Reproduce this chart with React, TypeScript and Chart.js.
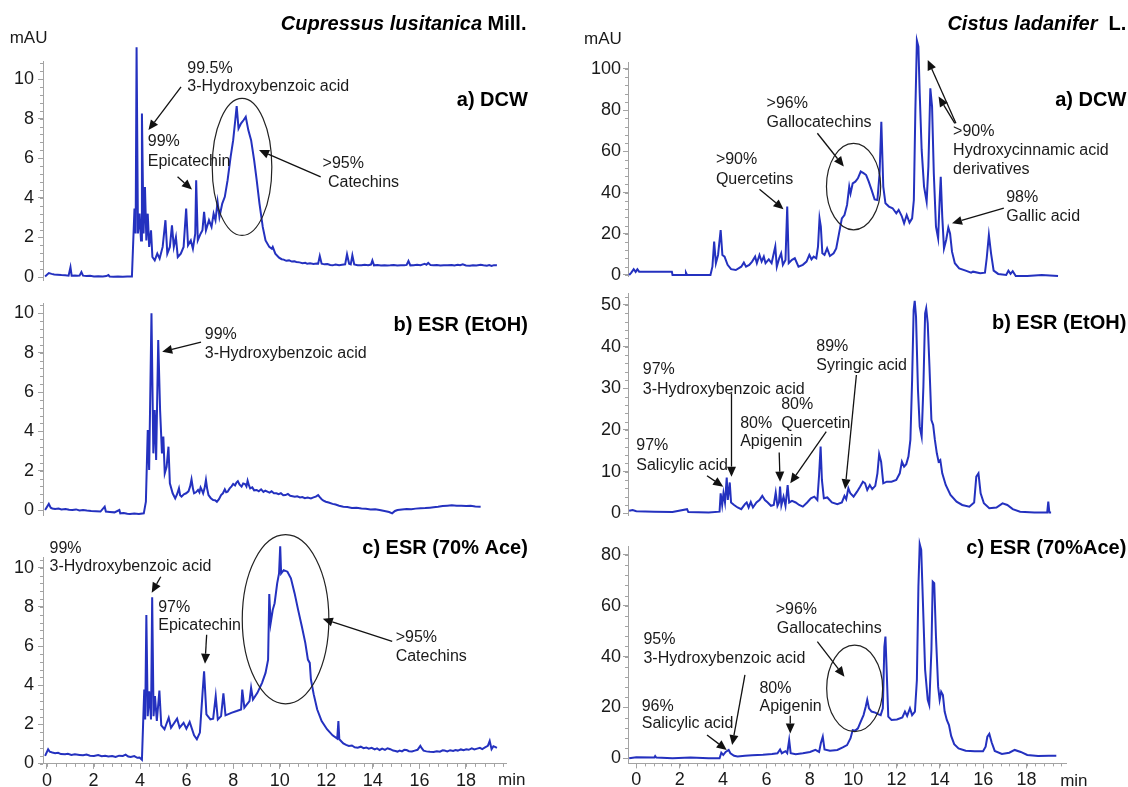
import React, { useEffect, useRef } from 'react';
import { Chart, registerables } from 'chart.js';

Chart.register(...registerables);

type Pt = [number, number];

// ---------- Data (retention time in min, absorbance in mAU) ----------
const cupDcw: Pt[] = [
  [-0.08, 0.03], [0.08, 0.2], [0.2, 0.16], [0.31, 0.13], [0.45, 0.12], [0.62, 0.1], [0.78, 0.09],
  [0.93, 0.07], [1.01, 0.5], [1.06, 0.07], [1.2, 0.08], [1.3, 0.06], [1.4, 0.07], [1.48, 0.25],
  [1.55, 0.07], [1.7, 0.05], [1.85, 0.06], [2.02, 0.03], [2.2, 0.04], [2.4, 0.03], [2.55, 0.05],
  [2.64, 0.1], [2.69, 0.03], [2.85, 0.02], [3.05, 0.03], [3.26, 0.02], [3.45, 0.03], [3.65, 0.03],
  [3.76, 3.46], [3.81, 2.2], [3.85, 11.6], [3.91, 2.2], [3.98, 3.2], [4.04, 1.85],
  [4.08, 8.26], [4.15, 2.2], [4.21, 4.55], [4.27, 1.85], [4.33, 3.2], [4.39, 1.52], [4.47, 2.36],
  [4.53, 1.01], [4.63, 0.84], [4.74, 1.18], [4.84, 0.93], [4.97, 1.52], [5.09, 2.87], [5.17, 1.18],
  [5.28, 1.52], [5.37, 2.61], [5.45, 1.52], [5.54, 2.02], [5.62, 1.01], [5.75, 1.18], [5.87, 1.52],
  [5.98, 3.46], [6.06, 1.6], [6.18, 1.85], [6.27, 1.43], [6.37, 2.19], [6.41, 4.89], [6.48, 1.85],
  [6.6, 2.19], [6.68, 2.36], [6.75, 3.29], [6.83, 2.36], [6.96, 2.87], [7.07, 2.53], [7.16, 3.2],
  [7.24, 2.87], [7.33, 3.79], [7.41, 3.04], [7.53, 3.71], [7.64, 4.05], [7.76, 4.89], [7.89, 6.07],
  [8.0, 6.91], [8.09, 7.93], [8.15, 8.63], [8.23, 7.5], [8.34, 7.76], [8.45, 7.93], [8.54, 8.09],
  [8.65, 7.42], [8.77, 6.91], [8.9, 5.9], [9.01, 4.89], [9.13, 3.71], [9.27, 2.53], [9.39, 1.85],
  [9.55, 1.52], [9.66, 1.43], [9.7, 1.52], [9.81, 1.18], [9.97, 0.98], [10.08, 0.9], [10.17, 0.88],
  [10.28, 0.82], [10.4, 0.84], [10.52, 0.78], [10.63, 0.8], [10.71, 0.76], [10.85, 0.74], [10.98, 0.7],
  [11.1, 0.72], [11.18, 0.67], [11.3, 0.69], [11.45, 0.66], [11.58, 0.68], [11.65, 0.67], [11.72, 1.06],
  [11.8, 0.67], [11.92, 0.64], [12.05, 0.66], [12.17, 0.61], [12.27, 0.59], [12.4, 0.63], [12.55, 0.6],
  [12.68, 0.62], [12.81, 0.64], [12.89, 1.15], [12.98, 0.67], [13.05, 0.64], [13.12, 1.1], [13.2, 0.64],
  [13.35, 0.6], [13.51, 0.59], [13.65, 0.62], [13.8, 0.6], [13.92, 0.63], [13.98, 0.84], [14.05, 0.59],
  [14.2, 0.61], [14.35, 0.58], [14.5, 0.6], [14.62, 0.58], [14.75, 0.59], [14.9, 0.61], [15.05, 0.58],
  [15.2, 0.6], [15.35, 0.59], [15.45, 0.61], [15.53, 0.81], [15.61, 0.59], [15.75, 0.6], [15.9, 0.62],
  [16.05, 0.6], [16.15, 0.64], [16.23, 0.67], [16.3, 0.62], [16.38, 0.71], [16.48, 0.6], [16.61, 0.59],
  [16.75, 0.61], [16.9, 0.58], [17.05, 0.6], [17.2, 0.59], [17.39, 0.61], [17.5, 0.58], [17.65, 0.62],
  [17.75, 0.6], [17.86, 0.64], [18.0, 0.58], [18.17, 0.57], [18.3, 0.6], [18.45, 0.58], [18.63, 0.62],
  [18.75, 0.59], [18.9, 0.57], [19.0, 0.6], [19.1, 0.56], [19.2, 0.6], [19.33, 0.59],
];

const cupEtoh: Pt[] = [
  [-0.08, 0], [0.08, 0.31], [0.16, 0.12], [0.23, 0.08], [0.35, 0.05], [0.5, 0.07], [0.62, 0.03],
  [0.8, 0.05], [0.95, 0.01], [1.09, 0], [1.25, 0.03], [1.4, -0.02], [1.55, 0], [1.71, -0.03],
  [1.9, -0.05], [2.1, -0.06], [2.3, -0.08], [2.48, 0.17], [2.53, -0.08], [2.7, -0.1], [2.9, -0.12],
  [3.11, 0], [3.15, -0.17], [3.3, -0.15], [3.45, -0.19], [3.57, -0.2], [3.75, -0.18], [3.95, -0.2],
  [4.16, -0.17], [4.25, 0.42], [4.33, 4.07],
  [4.39, 2.03], [4.49, 10.0], [4.57, 2.88], [4.63, 5.08], [4.69, 2.54], [4.78, 8.64], [4.86, 5.08],
  [4.94, 2.88], [5.0, 3.73], [5.06, 1.86], [5.14, 2.2], [5.22, 3.22], [5.28, 1.36], [5.4, 0.85],
  [5.51, 0.59], [5.59, 0.8], [5.67, 1.1], [5.72, 0.75], [5.78, 0.68], [5.88, 0.8], [5.98, 0.85],
  [6.08, 0.95], [6.15, 1.2], [6.21, 1.56], [6.27, 1.1], [6.32, 0.85], [6.4, 0.9], [6.49, 1.02],
  [6.55, 0.9], [6.6, 1.15], [6.66, 1.0], [6.71, 0.85], [6.77, 1.1], [6.83, 1.53], [6.88, 1.1],
  [6.94, 0.76], [7.04, 0.6], [7.14, 0.51], [7.22, 0.5], [7.3, 0.42], [7.39, 0.55], [7.48, 0.76],
  [7.56, 0.85], [7.64, 1.05], [7.7, 0.9], [7.76, 0.93], [7.85, 1.1], [7.93, 1.2], [8.0, 1.32],
  [8.08, 1.25], [8.14, 1.4], [8.2, 1.47], [8.27, 1.3], [8.36, 1.19], [8.43, 1.35], [8.51, 1.32],
  [8.57, 1.2], [8.62, 1.49], [8.68, 1.25], [8.73, 1.1], [8.82, 1.15], [8.9, 1.0], [9.01, 1.02],
  [9.1, 0.95], [9.2, 1.05], [9.3, 0.92], [9.38, 0.98], [9.47, 0.93], [9.56, 0.88], [9.65, 0.95],
  [9.75, 0.85], [9.86, 0.85], [9.95, 0.8], [10.05, 0.85], [10.15, 0.75], [10.25, 0.76], [10.35, 0.82],
  [10.45, 0.72], [10.55, 0.7], [10.65, 0.68], [10.75, 0.7], [10.87, 0.64], [10.97, 0.66], [11.08, 0.6],
  [11.2, 0.63], [11.34, 0.59], [11.45, 0.64], [11.55, 0.68], [11.65, 0.76], [11.72, 0.65], [11.8, 0.55],
  [11.88, 0.47], [11.98, 0.42], [12.1, 0.38], [12.27, 0.31], [12.4, 0.28], [12.55, 0.22], [12.73, 0.17],
  [12.9, 0.15], [13.1, 0.1], [13.3, 0.12], [13.51, 0.08], [13.7, 0.06], [13.9, 0.03], [14.1, 0.04],
  [14.29, 0], [14.5, -0.05], [14.7, -0.1], [14.83, -0.17], [14.95, -0.05], [15.06, 0], [15.25, 0.03],
  [15.45, 0.05], [15.65, 0.04], [15.84, 0.07], [16.05, 0.09], [16.25, 0.1], [16.45, 0.12], [16.61, 0.14],
  [16.8, 0.16], [17.0, 0.2], [17.2, 0.22], [17.39, 0.24], [17.6, 0.22], [17.8, 0.21], [18.01, 0.2],
  [18.2, 0.22], [18.4, 0.18], [18.63, 0.17],
];

const cupAce: Pt[] = [
  [-0.08, 0.39], [0.05, 0.73], [0.12, 0.6], [0.23, 0.56], [0.35, 0.52], [0.48, 0.55], [0.6, 0.48],
  [0.78, 0.47], [0.9, 0.5], [1.05, 0.44], [1.2, 0.47], [1.4, 0.44], [1.55, 0.42], [1.7, 0.46],
  [1.85, 0.4], [2.02, 0.39], [2.2, 0.43], [2.35, 0.37], [2.5, 0.4], [2.64, 0.36], [2.8, 0.38],
  [2.95, 0.33], [3.1, 0.4], [3.26, 0.39], [3.38, 0.45], [3.49, 0.36], [3.6, 0.33], [3.75, 0.38],
  [3.88, 0.29], [3.98, 0.3], [4.08, 0.19], [4.13, 2.0], [4.18, 3.78], [4.22, 2.25],
  [4.27, 7.59], [4.33, 2.42], [4.39, 3.69], [4.47, 2.25], [4.52, 8.49], [4.58, 2.42], [4.64, 3.44],
  [4.72, 2.17], [4.83, 3.73], [4.91, 1.95], [5.05, 1.75], [5.23, 2.34], [5.33, 1.83], [5.59, 2.29],
  [5.7, 1.83], [5.87, 2.08], [5.99, 1.78], [6.13, 2.12], [6.32, 1.44], [6.44, 1.24], [6.57, 1.58],
  [6.68, 3.53], [6.75, 4.71], [6.85, 2.51], [7.02, 2.25], [7.14, 2.29], [7.25, 3.44], [7.34, 2.25],
  [7.48, 2.42], [7.58, 3.58], [7.67, 2.46], [7.92, 2.59], [8.15, 2.68], [8.34, 2.76], [8.39, 3.78],
  [8.48, 2.85], [8.7, 3.19], [8.77, 3.86], [8.85, 3.27], [9.04, 3.61], [9.24, 4.12], [9.39, 4.63],
  [9.5, 5.31], [9.55, 8.66], [9.61, 7.17], [9.7, 7.85], [9.78, 8.19], [9.89, 9.2], [9.97, 9.71],
  [10.02, 11.1], [10.06, 9.71], [10.17, 9.88], [10.33, 9.8], [10.48, 9.46], [10.64, 8.69],
  [10.79, 7.85], [10.95, 7.0], [11.1, 6.15], [11.21, 5.31], [11.29, 5.14], [11.34, 4.29],
  [11.46, 3.53], [11.61, 2.76], [11.8, 2.17], [12.03, 1.75], [12.27, 1.44], [12.47, 1.27],
  [12.52, 2.17], [12.56, 1.24], [12.73, 1.03], [12.85, 0.95], [12.97, 0.9], [13.1, 0.92], [13.22, 0.83],
  [13.35, 0.81], [13.48, 0.86], [13.6, 0.78], [13.72, 0.82], [13.82, 0.76], [13.95, 0.8], [14.08, 0.72],
  [14.18, 0.77], [14.29, 0.69], [14.4, 0.76], [14.52, 0.7], [14.63, 0.78], [14.75, 0.73], [14.87, 0.66],
  [14.97, 0.64], [15.06, 0.61], [15.15, 0.66], [15.25, 0.62], [15.35, 0.7], [15.45, 0.69], [15.55, 0.63],
  [15.68, 0.61], [15.8, 0.66], [15.92, 0.7], [16.04, 0.9], [16.1, 0.78], [16.18, 0.66], [16.3, 0.62],
  [16.45, 0.6], [16.61, 0.59], [16.75, 0.63], [16.88, 0.6], [17.0, 0.67], [17.08, 0.66], [17.2, 0.62],
  [17.32, 0.68], [17.45, 0.64], [17.55, 0.69], [17.65, 0.66], [17.78, 0.72], [17.9, 0.68], [18.01, 0.73],
  [18.12, 0.7], [18.25, 0.77], [18.36, 0.72], [18.48, 0.76], [18.6, 0.8], [18.7, 0.74], [18.82, 0.82],
  [18.94, 0.9], [19.02, 1.15], [19.1, 0.73], [19.18, 0.88], [19.25, 0.85], [19.33, 0.8],
];

const cisDcw: Pt[] = [
  [-0.33, 0], [-0.23, 1.1], [-0.12, 2.8], [-0.03, 1.5], [0.05, 2.8], [0.13, 1.6], [0.83, 1.6],
  [1.64, 1.6], [1.67, 0], [2.25, 0], [2.29, 1.1], [2.34, 0], [3.42, 0], [3.51, 4.0], [3.59, 16.2],
  [3.67, 5.7], [3.77, 9.7], [3.89, 21.8], [3.97, 9.7], [4.07, 8.9], [4.21, 4.9], [4.37, 2.8],
  [4.59, 2.4], [4.84, 4.0], [4.96, 6.0], [5.06, 4.0], [5.21, 4.9], [5.34, 6.5], [5.48, 8.9],
  [5.56, 5.7], [5.68, 9.7], [5.78, 6.5], [5.88, 8.9], [5.96, 5.7], [6.11, 7.6], [6.24, 5.7],
  [6.34, 10.5], [6.41, 13.8], [6.48, 4.0], [6.59, 8.1], [6.68, 10.5], [6.76, 4.9], [6.88, 7.3],
  [6.96, 33.2], [7.03, 5.7], [7.18, 7.3], [7.31, 8.1], [7.48, 4.0], [7.68, 4.9], [7.85, 6.5],
  [7.98, 9.7], [8.08, 7.6], [8.18, 8.9], [8.3, 8.1], [8.38, 13.8], [8.45, 27.5], [8.51, 23.5],
  [8.58, 10.5], [8.68, 9.7], [8.8, 12.9], [8.93, 9.2], [9.1, 10.5], [9.22, 12.9], [9.35, 20.2],
  [9.48, 27.5], [9.6, 29.1], [9.72, 34.0], [9.82, 42.9], [9.88, 39.6], [9.98, 44.5], [10.1, 45.3],
  [10.22, 46.9], [10.35, 50.2], [10.48, 49.4], [10.6, 48.5], [10.72, 45.3], [10.85, 41.3],
  [10.99, 36.7], [11.12, 36.4], [11.22, 49.4], [11.3, 74.4], [11.39, 42.9], [11.49, 34.8],
  [11.65, 33.2], [11.82, 32.4], [11.99, 29.9], [12.1, 31.6], [12.24, 28.6], [12.35, 25.1],
  [12.47, 29.1], [12.6, 25.4], [12.72, 27.5], [12.8, 36.4], [12.87, 80.1], [12.94, 113.8],
  [13.01, 110.8], [13.07, 88.2], [13.16, 60.7], [13.27, 42.9], [13.39, 35.6], [13.47, 52.6],
  [13.56, 90.6], [13.64, 81.7], [13.72, 49.4], [13.82, 23.5], [13.92, 17.8], [13.99, 36.4],
  [14.04, 47.7], [14.11, 28.3], [14.19, 12.9], [14.29, 17.0], [14.39, 23.0], [14.47, 20.2],
  [14.56, 11.3], [14.69, 5.7], [14.89, 3.2], [15.19, 2.1], [15.44, 1.1], [15.53, 1.6], [15.86, 0.8],
  [16.08, 1.1], [16.16, 8.1], [16.26, 19.4], [16.36, 10.5], [16.48, 2.1], [16.69, 0.5], [17.06, 0],
  [17.16, 2.1], [17.26, 0.5], [17.36, 1.8], [17.5, -0.5], [18.03, -0.5], [18.7, 0], [19.45, -0.5],
];

const cisEtoh: Pt[] = [
  [-0.33, 0.6], [-0.17, 0.8], [0, 0.5], [0.83, 0.4], [1.67, 0.3], [2.34, 1.0], [2.4, 0.3],
  [3.34, 0.2], [3.84, 0.4], [3.89, 4.8], [3.96, 2.0], [4.02, 4.8], [4.09, 2.6], [4.17, 8.6],
  [4.22, 3.2], [4.31, 7.4], [4.37, 2.6], [4.51, 2.0], [4.67, 1.4], [4.84, 1.0], [5.01, 2.2],
  [5.09, 2.6], [5.18, 1.4], [5.28, 2.7], [5.38, 1.4], [5.54, 2.6], [5.68, 3.2], [5.81, 4.2],
  [5.93, 3.2], [6.06, 2.6], [6.21, 1.8], [6.34, 2.0], [6.43, 5.0], [6.51, 1.8], [6.58, 2.6],
  [6.63, 6.4], [6.69, 1.9], [6.79, 4.0], [6.88, 1.8], [6.98, 6.8], [7.05, 2.6], [7.18, 3.0],
  [7.35, 2.6], [7.51, 2.0], [7.68, 1.6], [7.88, 2.6], [8.05, 3.6], [8.21, 4.0], [8.35, 3.2],
  [8.43, 9.2], [8.5, 16.0], [8.56, 8.0], [8.65, 3.6], [8.81, 3.8], [9.02, 2.6], [9.27, 2.2],
  [9.48, 2.6], [9.6, 4.2], [9.68, 3.4], [9.78, 6.0], [9.87, 4.8], [10.02, 4.0], [10.18, 5.2],
  [10.32, 6.4], [10.45, 7.6], [10.55, 7.2], [10.65, 5.6], [10.77, 6.8], [10.88, 5.8], [11.02, 6.6],
  [11.12, 9.6], [11.2, 14.2], [11.29, 12.4], [11.39, 7.2], [11.55, 7.6], [11.77, 7.6], [11.99, 8.0],
  [12.15, 9.6], [12.25, 12.4], [12.35, 11.2], [12.45, 11.8], [12.55, 13.6], [12.64, 17.6],
  [12.72, 32.0], [12.79, 48.8], [12.84, 51.0], [12.9, 47.2], [12.99, 29.6], [13.07, 20.8],
  [13.16, 18.4], [13.24, 30.4], [13.32, 48.0], [13.37, 49.2], [13.44, 45.6], [13.52, 35.2],
  [13.61, 22.4], [13.69, 21.2], [13.77, 17.6], [13.86, 14.4], [13.94, 12.4], [14.02, 12.8],
  [14.11, 9.6], [14.27, 6.8], [14.49, 4.4], [14.77, 2.8], [15.03, 2.0], [15.36, 1.6], [15.58, 2.6],
  [15.68, 8.8], [15.78, 9.6], [15.88, 4.8], [16.03, 2.4], [16.28, 1.2], [16.61, 1.4], [16.89, 2.4],
  [17.11, 2.0], [17.36, 1.0], [17.7, 0.4], [18.36, 0.2], [18.95, 0.2], [19.0, 2.8], [19.05, 0.2],
  [19.13, 0.2],
];

const cisAce: Pt[] = [
  [-0.33, 0], [0, 0.4], [0.83, 0.3], [0.87, 0.9], [0.92, 0.3], [1.67, 0], [2.5, 0.3], [3.34, 0],
  [3.84, 0], [3.92, 2.2], [4.01, 1.3], [4.12, 2.5], [4.26, 3.3], [4.34, 2.0], [4.51, 1.0],
  [4.67, 0.7], [5.01, 1.0], [5.34, 1.2], [5.84, 1.4], [6.26, 1.7], [6.51, 2.0], [6.63, 3.5],
  [6.71, 2.0], [6.88, 2.8], [6.96, 2.0], [7.05, 7.2], [7.12, 2.0], [7.35, 1.6], [7.68, 2.0],
  [8.01, 2.5], [8.26, 3.3], [8.43, 2.5], [8.51, 5.9], [8.6, 8.5], [8.68, 3.5], [8.93, 3.0],
  [9.27, 3.3], [9.52, 4.3], [9.72, 5.2], [9.88, 7.9], [9.98, 11.1], [10.1, 10.9], [10.22, 11.8],
  [10.35, 14.4], [10.48, 17.0], [10.58, 20.3], [10.65, 23.0], [10.73, 19.7], [10.85, 18.4],
  [11.02, 18.0], [11.15, 17.4], [11.27, 17.0], [11.37, 19.7], [11.44, 43.9], [11.49, 47.9],
  [11.54, 36.1], [11.62, 16.4], [11.77, 15.1], [12.02, 15.3], [12.27, 16.1], [12.39, 18.4],
  [12.49, 16.7], [12.62, 19.7], [12.72, 17.0], [12.85, 18.4], [12.94, 30.8], [13.01, 67.5],
  [13.07, 84.3], [13.14, 82.0], [13.22, 61.0], [13.32, 34.8], [13.44, 23.0], [13.51, 21.0],
  [13.61, 42.6], [13.67, 69.5], [13.74, 68.9], [13.82, 47.9], [13.92, 28.2], [13.99, 23.0],
  [14.06, 26.2], [14.14, 24.9], [14.22, 18.4], [14.32, 15.1], [14.42, 13.1], [14.52, 8.8],
  [14.66, 5.6], [14.86, 3.9], [15.19, 3.0], [15.61, 2.8], [15.99, 2.8], [16.11, 4.6], [16.19, 8.5],
  [16.28, 9.6], [16.39, 6.2], [16.53, 2.9], [16.86, 1.7], [17.2, 2.2], [17.45, 3.3], [17.73, 2.5],
  [18.03, 1.3], [18.53, 0.9], [19.03, 1.0], [19.37, 1.0],
];

// ---------- Tick labels ----------
const xTicks = [0, 2, 4, 6, 8, 10, 12, 14, 16, 18];
const cupYTicks = [0, 2, 4, 6, 8, 10];
const cisDcwYTicks = [0, 20, 40, 60, 80, 100];
const cisEtohYTicks = [0, 10, 20, 30, 40, 50];
const cisAceYTicks = [0, 20, 40, 60, 80];

// ---------- Annotations (in data coordinates) ----------
type Note =
  | { kind: 'text'; t: number; v: number; text: string; align?: CanvasTextAlign; style?: 'note' | 'label' | 'axis' }
  | { kind: 'title'; t: number; v: number; italic: string; plain: string }
  | { kind: 'arrow'; t1: number; v1: number; t2: number; v2: number }
  | { kind: 'ellipse'; t: number; v: number; rt: number; rv: number };

const cupDcwNotes: Note[] = [
  { kind: 'title', t: 20.6, v: 12.73, italic: 'Cupressus lusitanica', plain: ' Mill.' },
  { kind: 'text', t: -0.79, v: 12.06, text: 'mAU', align: 'center', style: 'axis' },
  { kind: 'text', t: 20.66, v: 8.92, text: 'a) DCW', align: 'right', style: 'label' },
  { kind: 'text', t: 6.03, v: 10.55, text: '99.5%' },
  { kind: 'text', t: 6.03, v: 9.62, text: '3-Hydroxybenzoic acid' },
  { kind: 'arrow', t1: 5.76, v1: 9.6, t2: 4.36, v2: 7.42 },
  { kind: 'text', t: 4.33, v: 6.83, text: '99%' },
  { kind: 'text', t: 4.33, v: 5.82, text: 'Epicatechin' },
  { kind: 'arrow', t1: 5.61, v1: 5.06, t2: 6.23, v2: 4.42 },
  { kind: 'ellipse', t: 8.38, v: 5.56, rt: 1.28, rv: 3.46 },
  { kind: 'text', t: 11.84, v: 5.73, text: '>95%' },
  { kind: 'text', t: 12.07, v: 4.76, text: 'Catechins' },
  { kind: 'arrow', t1: 11.76, v1: 5.06, t2: 9.11, v2: 6.41 },
];

const cupEtohNotes: Note[] = [
  { kind: 'text', t: 20.66, v: 9.4, text: 'b) ESR (EtOH)', align: 'right', style: 'label' },
  { kind: 'text', t: 6.78, v: 8.9, text: '99%' },
  { kind: 'text', t: 6.78, v: 7.93, text: '3-Hydroxybenzoic acid' },
  { kind: 'arrow', t1: 6.62, v1: 8.53, t2: 4.95, v2: 8.05 },
];

const cupAceNotes: Note[] = [
  { kind: 'text', t: 20.66, v: 10.98, text: 'c) ESR (70% Ace)', align: 'right', style: 'label' },
  { kind: 'text', t: 0.11, v: 11.0, text: '99%' },
  { kind: 'text', t: 0.11, v: 10.05, text: '3-Hydroxybenzoic acid' },
  { kind: 'arrow', t1: 4.89, v1: 9.54, t2: 4.5, v2: 8.73 },
  { kind: 'text', t: 4.78, v: 7.98, text: '97%' },
  { kind: 'text', t: 4.78, v: 7.03, text: 'Epicatechin' },
  { kind: 'arrow', t1: 6.86, v1: 6.58, t2: 6.79, v2: 5.1 },
  { kind: 'ellipse', t: 10.25, v: 7.37, rt: 1.86, rv: 4.32 },
  { kind: 'text', t: 14.98, v: 6.41, text: '>95%' },
  { kind: 'text', t: 14.98, v: 5.47, text: 'Catechins' },
  { kind: 'arrow', t1: 14.83, v1: 6.24, t2: 11.85, v2: 7.39 },
  { kind: 'text', t: 19.97, v: -0.85, text: 'min', align: 'center', style: 'axis' },
];

const cisDcwNotes: Note[] = [
  { kind: 'title', t: 22.6, v: 121.4, italic: 'Cistus ladanifer', plain: '  L.' },
  { kind: 'text', t: -1.54, v: 114.4, text: 'mAU', align: 'center', style: 'axis' },
  { kind: 'text', t: 22.6, v: 84.8, text: 'a) DCW', align: 'right', style: 'label' },
  { kind: 'text', t: 6.01, v: 83.3, text: '>96%' },
  { kind: 'text', t: 6.01, v: 74.1, text: 'Gallocatechins' },
  { kind: 'arrow', t1: 8.35, v1: 68.8, t2: 9.57, v2: 52.6 },
  { kind: 'ellipse', t: 10.02, v: 42.9, rt: 1.25, rv: 21 },
  { kind: 'text', t: 3.67, v: 55.8, text: '>90%' },
  { kind: 'text', t: 3.67, v: 46.1, text: 'Quercetins' },
  { kind: 'arrow', t1: 5.68, v1: 41.6, t2: 6.79, v2: 31.9 },
  { kind: 'text', t: 14.61, v: 69.6, text: '>90%' },
  { kind: 'text', t: 14.61, v: 60.2, text: 'Hydroxycinnamic acid' },
  { kind: 'text', t: 14.61, v: 51, text: 'derivatives' },
  { kind: 'arrow', t1: 14.74, v1: 73.6, t2: 13.44, v2: 104.4 },
  { kind: 'arrow', t1: 14.69, v1: 73.6, t2: 13.94, v2: 86.6 },
  { kind: 'text', t: 17.06, v: 37.5, text: '98%' },
  { kind: 'text', t: 17.06, v: 28.3, text: 'Gallic acid' },
  { kind: 'arrow', t1: 16.95, v1: 32.4, t2: 14.56, v2: 25.1 },
];

const cisEtohNotes: Note[] = [
  { kind: 'text', t: 22.6, v: 45.6, text: 'b) ESR (EtOH)', align: 'right', style: 'label' },
  { kind: 'text', t: 0.3, v: 34.4, text: '97%' },
  { kind: 'text', t: 0.3, v: 29.8, text: '3-Hydroxybenzoic acid' },
  { kind: 'arrow', t1: 4.39, v1: 28.8, t2: 4.39, v2: 8.8 },
  { kind: 'text', t: 0, v: 16.2, text: '97%' },
  { kind: 'text', t: 0, v: 11.5, text: 'Salicylic acid' },
  { kind: 'arrow', t1: 3.26, v1: 9.0, t2: 4.01, v2: 6.4 },
  { kind: 'text', t: 4.79, v: 21.6, text: '80%' },
  { kind: 'text', t: 4.79, v: 17.2, text: 'Apigenin' },
  { kind: 'arrow', t1: 6.59, v1: 14.6, t2: 6.63, v2: 7.6 },
  { kind: 'text', t: 6.68, v: 26.2, text: '80%' },
  { kind: 'text', t: 6.68, v: 21.6, text: 'Quercetin' },
  { kind: 'arrow', t1: 8.76, v1: 19.6, t2: 7.1, v2: 7.2 },
  { kind: 'text', t: 8.3, v: 40, text: '89%' },
  { kind: 'text', t: 8.3, v: 35.4, text: 'Syringic acid' },
  { kind: 'arrow', t1: 10.15, v1: 33.2, t2: 9.63, v2: 5.8 },
];

const cisAceNotes: Note[] = [
  { kind: 'text', t: 22.6, v: 82.6, text: 'c) ESR (70%Ace)', align: 'right', style: 'label' },
  { kind: 'text', t: 6.43, v: 58.6, text: '>96%' },
  { kind: 'text', t: 6.48, v: 51.1, text: 'Gallocatechins' },
  { kind: 'arrow', t1: 8.35, v1: 45.9, t2: 9.6, v2: 32.1 },
  { kind: 'ellipse', t: 10.07, v: 27.5, rt: 1.29, rv: 17.0 },
  { kind: 'text', t: 0.33, v: 46.6, text: '95%' },
  { kind: 'text', t: 0.33, v: 39.3, text: '3-Hydroxybenzoic acid' },
  { kind: 'arrow', t1: 5.01, v1: 32.8, t2: 4.42, v2: 5.2 },
  { kind: 'text', t: 5.68, v: 27.5, text: '80%' },
  { kind: 'text', t: 5.68, v: 20.3, text: 'Apigenin' },
  { kind: 'arrow', t1: 7.1, v1: 16.7, t2: 7.1, v2: 9.8 },
  { kind: 'text', t: 0.25, v: 20.3, text: '96%' },
  { kind: 'text', t: 0.25, v: 13.5, text: 'Salicylic acid' },
  { kind: 'arrow', t1: 3.26, v1: 9.2, t2: 4.17, v2: 3.3 },
  { kind: 'text', t: 20.18, v: -9.2, text: 'min', align: 'center', style: 'axis' },
];

// ---------- Styling ----------
const FONT = '"Liberation Sans", Arial, Helvetica, sans-serif';
const TRACE = '#2431bf';
const AXIS = '#a3a3a3';
const INK = '#1a1a1a';

function notesPlugin(notes: Note[], minorY: number, minorX: number, showX: boolean) {
  return {
    id: 'notes',
    afterDraw(chart: any) {
      const ctx: CanvasRenderingContext2D = chart.ctx;
      const xs = chart.scales.x;
      const ys = chart.scales.y;
      const X = (t: number) => xs.getPixelForValue(t);
      const Y = (v: number) => ys.getPixelForValue(v);
      const area = chart.chartArea;
      ctx.save();
      // minor ticks
      ctx.strokeStyle = AXIS;
      ctx.lineWidth = 1;
      ctx.beginPath();
      for (let v = Math.ceil(ys.min / minorY) * minorY; v <= ys.max + 1e-9; v += minorY) {
        const py = Math.round(Y(v)) + 0.5;
        ctx.moveTo(area.left - 3, py);
        ctx.lineTo(area.left, py);
      }
      if (showX) {
        for (let t = Math.ceil(xs.min / minorX) * minorX; t <= xs.max + 1e-9; t += minorX) {
          const px = Math.round(X(t)) + 0.5;
          ctx.moveTo(px, area.bottom);
          ctx.lineTo(px, area.bottom + 3);
        }
      }
      ctx.stroke();

      for (const n of notes) {
        if (n.kind === 'ellipse') {
          const cx = X(n.t), cy = Y(n.v);
          const rx = Math.abs(X(n.t + n.rt) - cx);
          const ry = Math.abs(Y(n.v + n.rv) - cy);
          ctx.beginPath();
          ctx.ellipse(cx, cy, rx, ry, 0, 0, Math.PI * 2);
          ctx.strokeStyle = '#222';
          ctx.lineWidth = 1.2;
          ctx.stroke();
        } else if (n.kind === 'arrow') {
          const x1 = X(n.t1), y1 = Y(n.v1), x2 = X(n.t2), y2 = Y(n.v2);
          const ang = Math.atan2(y2 - y1, x2 - x1);
          const hl = 10, hw = 4.5;
          const bx = x2 - hl * Math.cos(ang), by = y2 - hl * Math.sin(ang);
          ctx.strokeStyle = '#111';
          ctx.fillStyle = '#111';
          ctx.lineWidth = 1.3;
          ctx.beginPath();
          ctx.moveTo(x1, y1);
          ctx.lineTo(bx, by);
          ctx.stroke();
          ctx.beginPath();
          ctx.moveTo(x2, y2);
          ctx.lineTo(bx + hw * Math.sin(ang), by - hw * Math.cos(ang));
          ctx.lineTo(bx - hw * Math.sin(ang), by + hw * Math.cos(ang));
          ctx.closePath();
          ctx.fill();
        } else if (n.kind === 'title') {
          const r = X(n.t), y = Y(n.v);
          ctx.fillStyle = '#000';
          ctx.textBaseline = 'middle';
          ctx.textAlign = 'left';
          ctx.font = `bold 20px ${FONT}`;
          const wp = ctx.measureText(n.plain).width;
          ctx.fillText(n.plain, r - wp, y);
          ctx.font = `italic bold 20px ${FONT}`;
          const wi = ctx.measureText(n.italic).width;
          ctx.fillText(n.italic, r - wp - wi, y);
        } else {
          const style = n.style || 'note';
          ctx.font =
            style === 'label' ? `bold 20px ${FONT}` : style === 'axis' ? `17px ${FONT}` : `16px ${FONT}`;
          ctx.fillStyle = style === 'label' ? '#000' : INK;
          ctx.textAlign = n.align || 'left';
          ctx.textBaseline = 'middle';
          ctx.fillText(n.text, X(n.t), Y(n.v));
        }
      }
      ctx.restore();
    },
  };
}

type PanelProps = {
  series: Pt[];
  notes: Note[];
  left: number;
  top: number;
  width: number;
  height: number;
  xMin: number;
  xMax: number;
  yMin: number;
  yMax: number;
  yTicks: number[];
  minorY: number;
  padTop: number;
  padBottom: number;
  padRight: number;
  axisW: number;
  labelPad: number;
  showX: boolean;
  xAxisH: number;
};

function Panel(p: PanelProps) {
  const ref = useRef<HTMLCanvasElement>(null);
  useEffect(() => {
    if (!ref.current) return;
    const tickFont = { family: FONT, size: 18, lineHeight: 1 };
    const chart = new Chart(ref.current, {
      type: 'line',
      data: {
        datasets: [
          {
            data: p.series.map(([x, y]) => ({ x, y })),
            borderColor: TRACE,
            borderWidth: 2,
            pointRadius: 0,
            tension: 0,
            fill: false,
            clip: false as any,
          },
        ],
      },
      options: {
        animation: false,
        responsive: false,
        maintainAspectRatio: false,
        events: [],
        layout: { padding: { top: p.padTop, bottom: p.padBottom, right: p.padRight, left: 0 } },
        plugins: { legend: { display: false }, tooltip: { enabled: false }, title: { display: false } },
        scales: {
          x: {
            type: 'linear',
            min: p.xMin,
            max: p.xMax,
            display: p.showX,
            afterBuildTicks: (s: any) => {
              s.ticks = xTicks.map((v) => ({ value: v }));
            },
            afterFit: (s: any) => {
              s.height = p.xAxisH;
            },
            ticks: { font: tickFont, color: INK, padding: 3, maxRotation: 0, autoSkip: false },
            grid: { display: true, drawOnChartArea: false, drawTicks: true, tickLength: 5, color: AXIS },
            border: { display: true, color: AXIS, width: 1 },
          },
          y: {
            type: 'linear',
            min: p.yMin,
            max: p.yMax,
            afterBuildTicks: (s: any) => {
              s.ticks = p.yTicks.map((v) => ({ value: v }));
            },
            afterFit: (s: any) => {
              s.width = p.axisW;
            },
            ticks: { font: tickFont, color: INK, padding: p.labelPad, autoSkip: false },
            grid: { display: true, drawOnChartArea: false, drawTicks: true, tickLength: 5, color: AXIS },
            border: { display: true, color: AXIS, width: 1 },
          },
        },
      } as any,
      plugins: [notesPlugin(p.notes, p.minorY, 0.4, p.showX)],
    });
    return () => chart.destroy();
  }, []);
  return (
    <canvas
      ref={ref}
      width={p.width}
      height={p.height}
      style={{ position: 'absolute', left: p.left, top: p.top, width: p.width, height: p.height }}
    />
  );
}

const LEFT = { left: 0, width: 564, xMin: -0.17, xMax: 19.72, axisW: 43, labelPad: 4, padRight: 58 };
const RIGHT = { left: 564, width: 564, xMin: -0.383, xMax: 19.84, axisW: 64, labelPad: 2, padRight: 61.5 };

export default function App() {
  return (
    <div style={{ position: 'absolute', left: 0, top: 0, width: 1128, height: 787, background: '#fff', overflow: 'hidden' }}>
      <Panel {...LEFT} series={cupDcw} notes={cupDcwNotes} top={0} height={300} yMin={-0.15} yMax={10.9}
        yTicks={cupYTicks} minorY={0.4} padTop={61.2} padBottom={20} showX={false} xAxisH={0} />
      <Panel {...LEFT} series={cupEtoh} notes={cupEtohNotes} top={285} height={250} yMin={-0.3} yMax={10.5}
        yTicks={cupYTicks} minorY={0.4} padTop={18.5} padBottom={19.1} showX={false} xAxisH={0} />
      <Panel {...LEFT} series={cupAce} notes={cupAceNotes} top={530} height={257} yMin={-0.02} yMax={10.55}
        yTicks={cupYTicks} minorY={0.4} padTop={27} padBottom={0} showX={true} xAxisH={23.1} />
      <Panel {...RIGHT} series={cisDcw} notes={cisDcwNotes} top={0} height={300} yMin={-0.8} yMax={103}
        yTicks={cisDcwYTicks} minorY={4} padTop={62.8} padBottom={23.4} showX={false} xAxisH={0} />
      <Panel {...RIGHT} series={cisEtoh} notes={cisEtohNotes} top={280} height={255} yMin={-0.5} yMax={52.8}
        yTicks={cisEtohYTicks} minorY={2} padTop={13.3} padBottom={19.6} showX={false} xAxisH={0} />
      <Panel {...RIGHT} series={cisAce} notes={cisAceNotes} top={525} height={262} yMin={-2} yMax={83.3}
        yTicks={cisAceYTicks} minorY={4} padTop={21.6} padBottom={0} showX={true} xAxisH={23.6} />
    </div>
  );
}
